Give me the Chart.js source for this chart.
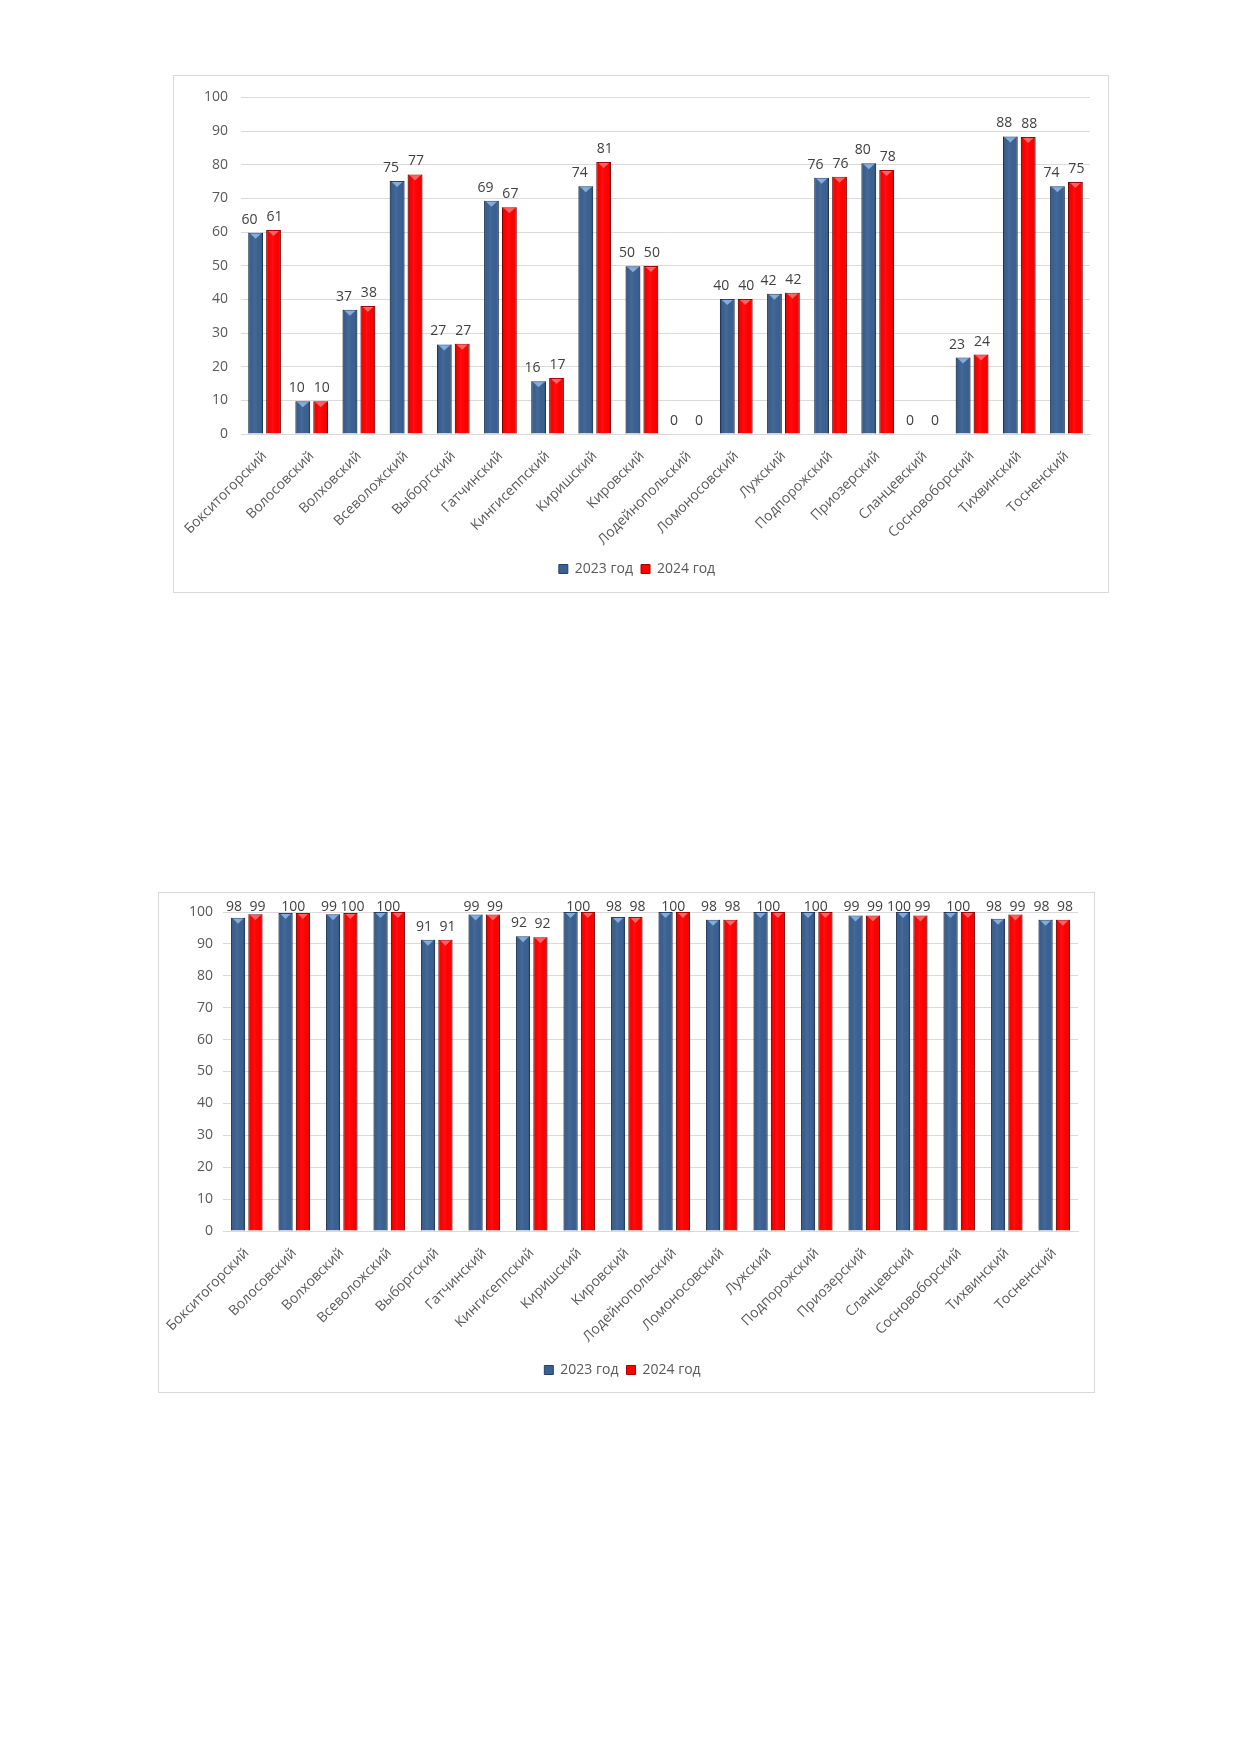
<!DOCTYPE html>
<html lang="ru">
<head>
<meta charset="utf-8">
<script src="https://cdn.jsdelivr.net/npm/chart.js@4.4.1/dist/chart.umd.min.js"></script>
<style>
  html, body { margin: 0; padding: 0; background: #fff; }
  body { width: 1240px; height: 1754px; position: relative; overflow: hidden; }
  .box { position: absolute; border: 1px solid #d9d9d9; background: #fff; box-sizing: border-box; }
  #box1 { left: 173px; top: 75px; width: 936px; height: 518px; }
  #box2 { left: 158px; top: 892px; width: 937px; height: 501px; }
  .box canvas { display: block; }
</style>
</head>
<body>
<div class="box" id="box1"><canvas id="chart1"></canvas></div>
<div class="box" id="box2"><canvas id="chart2"></canvas></div>
<script>
// районы (категории)
const districts = ["Бокситогорский", "Волосовский", "Волховский", "Всеволожский", "Выборгский",
    "Гатчинский", "Кингисеппский", "Киришский", "Кировский", "Лодейнопольский", "Ломоносовский",
    "Лужский", "Подпорожский", "Приозерский", "Сланцевский", "Сосновоборский", "Тихвинский", "Тосненский"];
const seriesNames = ["2023 год", "2024 год"];
const yTickValues = [0, 10, 20, 30, 40, 50, 60, 70, 80, 90, 100];

// верхняя диаграмма
const top2023 = [59.8, 9.7, 36.9, 75.2, 26.6, 69.3, 15.7, 73.6, 49.8, 0, 40.1, 41.7, 76.1, 80.4, 0, 22.7, 88.4, 73.6];
const top2024 = [60.6, 9.7, 38.0, 77.1, 26.8, 67.4, 16.6, 80.8, 49.9, 0, 40.1, 42.0, 76.4, 78.4, 0, 23.6, 88.2, 74.9];

// нижняя диаграмма
const bottom2023 = [98.2, 99.7, 99.3, 100, 91.3, 99.2, 92.4, 100, 98.4, 100, 97.6, 100, 100, 98.9, 100, 100, 97.9, 97.6];
const bottom2024 = [99.3, 99.7, 99.7, 100, 91.3, 99.2, 92.1, 100, 98.4, 100, 97.6, 100, 100, 98.9, 98.9, 100, 99.2, 97.6];

const FONT = "'Open Sans', 'Noto Sans', sans-serif";
const TEXT = "#595959";
const GRID = "#d9d9d9";

// объёмная заливка столбцов
const barShade = {
    id: 'barShade',
    afterDatasetsDraw(chart) {
        const ctx = chart.ctx;
        ctx.save();
        chart.data.datasets.forEach((ds, di) => {
            chart.getDatasetMeta(di).data.forEach(bar => {
                const { x, y, base, width } = bar.getProps(['x', 'y', 'base', 'width'], true);
                if (base - y < 1) return;
                const left = x - width / 2;
                const g = ctx.createLinearGradient(left, 0, left + width, 0);
                g.addColorStop(0, 'rgba(0,0,0,0.35)');
                g.addColorStop(0.15, 'rgba(0,0,0,0)');
                g.addColorStop(0.4, 'rgba(255,255,255,0.06)');
                g.addColorStop(0.85, 'rgba(0,0,0,0)');
                g.addColorStop(1, 'rgba(0,0,0,0.35)');
                ctx.fillStyle = g;
                ctx.fillRect(left, y, width, base - y);
                ctx.fillStyle = ds.bevelColor;
                ctx.beginPath();
                ctx.moveTo(left + 2, y + 1);
                ctx.lineTo(left + width - 2, y + 1);
                ctx.lineTo(x, y + Math.min(6, base - y));
                ctx.closePath();
                ctx.fill();
            });
        });
        ctx.restore();
    }
};

// подписи значений над столбцами
const valueLabels = {
    id: 'valueLabels',
    afterDatasetsDraw(chart, args, opts) {
        const ctx = chart.ctx;
        ctx.save();
        ctx.font = "14px " + FONT;
        ctx.fillStyle = "#404040";
        ctx.textAlign = 'center';
        ctx.textBaseline = 'alphabetic';
        const metas = chart.data.datasets.map((d, i) => chart.getDatasetMeta(i));
        chart.data.labels.forEach((lab, i) => {
            const items = metas.map((m, di) => {
                const el = m.data[i];
                return {
                    text: String(Math.round(chart.data.datasets[di].data[i])),
                    x: el.x + opts.shift[di],
                    y: Math.max(el.y - opts.gap, chart.chartArea.top + opts.minTop)
                };
            });
            if (items[0].text === items[1].text) {
                const w = ctx.measureText(items[0].text).width;
                if (items[1].x - items[0].x < w + 1) {
                    ctx.fillText(items[0].text, (items[0].x + items[1].x) / 2, Math.min(items[0].y, items[1].y));
                    return;
                }
            }
            items.forEach(it => ctx.fillText(it.text, it.x, it.y));
        });
        ctx.restore();
    }
};

function drawChart(id, values2023, values2024, layout) {
    const ctx = document.getElementById(id).getContext('2d');
    return new Chart(ctx, {
        type: 'bar',
        data: {
            labels: districts,
            datasets: [{
                label: seriesNames[0],
                data: values2023,
                backgroundColor: "#3a6192",
                borderColor: "#22406a",
                bevelColor: "rgba(141,180,226,0.9)",
                borderWidth: 1,
                borderSkipped: 'bottom',
                barPercentage: layout.barPct,
                categoryPercentage: layout.catPct
            }, {
                label: seriesNames[1],
                data: values2024,
                backgroundColor: "#ff0000",
                borderColor: "#a80000",
                bevelColor: "rgba(255,110,110,0.9)",
                borderWidth: 1,
                borderSkipped: 'bottom',
                barPercentage: layout.barPct,
                categoryPercentage: layout.catPct
            }]
        },
        options: {
            responsive: true,
            maintainAspectRatio: false,
            animation: false,
            layout: { padding: layout.padding },
            scales: {
                x: {
                    grid: { display: false },
                    border: { display: true, color: GRID, width: 1 },
                    ticks: {
                        autoSkip: false, maxRotation: 45, minRotation: 45,
                        padding: layout.xPad,
                        color: TEXT, font: { family: FONT, size: 14 }
                    },
                    afterFit: s => { s.height = layout.xHeight; }
                },
                y: {
                    min: 0, max: 100,
                    grid: { color: GRID, lineWidth: 1, drawTicks: false },
                    border: { display: false },
                    afterBuildTicks: s => { s.ticks = yTickValues.map(v => ({ value: v })); },
                    ticks: { padding: layout.yPad, color: TEXT, font: { family: FONT, size: 14 } },
                    afterFit: s => { s.width = layout.yWidth; }
                }
            },
            plugins: {
                legend: {
                    position: 'bottom',
                    labels: {
                        boxWidth: 9, boxHeight: 9, padding: 8,
                        color: TEXT, font: { family: FONT, size: 14 }
                    }
                },
                tooltip: { enabled: false },
                valueLabels: layout.labels
            }
        },
        plugins: [barShade, valueLabels]
    });
}

drawChart('chart1', top2023, top2024, {
    padding: { top: 12, right: 18, bottom: 6, left: 10 },
    yWidth: 57, yPad: 13, xHeight: 120, xPad: 6,
    barPct: 0.82, catPct: 0.76,
    labels: { gap: 9, shift: [-6, 1], minTop: -12 }
});
drawChart('chart2', bottom2023, bottom2024, {
    padding: { top: 19, right: 16, bottom: 5, left: 8 },
    yWidth: 56, yPad: 10, xHeight: 124, xPad: 6,
    barPct: 0.81, catPct: 0.73,
    labels: { gap: 9, shift: [-4, 2], minTop: -1 }
});
</script>
</body>
</html>
